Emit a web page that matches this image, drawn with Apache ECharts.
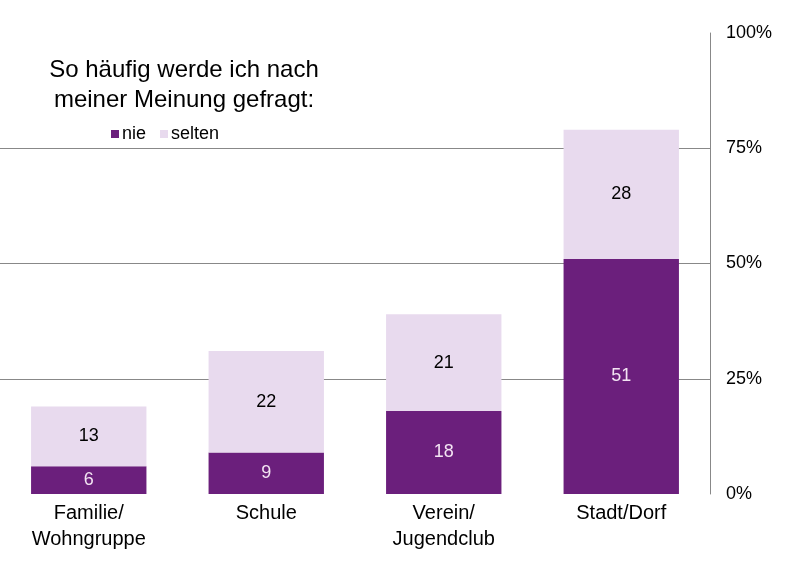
<!DOCTYPE html>
<html>
<head>
<meta charset="utf-8">
<script src="https://cdn.jsdelivr.net/npm/echarts@6/dist/echarts.min.js"></script>
<style>
  html, body { margin: 0; padding: 0; background: #fff; }
  #chart { width: 791px; height: 573px; }
</style>
</head>
<body>
<div id="chart"></div>
<script>
var categories = ['Familie/\nWohngruppe', 'Schule', 'Verein/\nJugendclub', 'Stadt/Dorf'];
var nie = [6, 9, 18, 51];
var selten = [13, 22, 21, 28];
var yTicks = [0, 25, 50, 75, 100];

var font = 'Liberation Sans, Arial, sans-serif';
var myChart = echarts.init(document.getElementById('chart'));

var option = {
  backgroundColor: '#fff',
  animation: false,
  title: {
    text: 'So häufig werde ich nach\nmeiner Meinung gefragt:',
    left: 179,
    top: 50,
    textAlign: 'center',
    textStyle: {
      fontFamily: font,
      fontSize: 24,
      fontWeight: 'normal',
      color: '#000',
      lineHeight: 30
    }
  },
  legend: {
    left: 106,
    top: 120,
    itemWidth: 8,
    itemHeight: 8,
    itemGap: 14,
    icon: 'rect',
    textStyle: { fontFamily: font, fontSize: 18, color: '#000', padding: [0, 0, 0, -2] },
    data: ['nie', 'selten']
  },
  grid: { left: 0, right: 81, top: 33, bottom: 79, containLabel: false },
  xAxis: {
    type: 'category',
    data: categories,
    axisLine: { show: false },
    axisTick: { show: false },
    axisLabel: {
      fontFamily: font,
      fontSize: 20,
      color: '#000',
      lineHeight: 26,
      margin: 6
    }
  },
  yAxis: {
    type: 'value',
    position: 'right',
    min: yTicks[0],
    max: yTicks[yTicks.length - 1],
    interval: 25,
    axisLine: { show: true, lineStyle: { color: '#888', width: 1 } },
    axisTick: { show: false },
    axisLabel: {
      formatter: '{value}%',
      fontFamily: font,
      fontSize: 18,
      color: '#000',
      margin: 16
    },
    splitLine: {
      show: true,
      lineStyle: { color: ['transparent', '#888', '#888', '#888', 'transparent'], width: 1 }
    }
  },
  series: [
    {
      name: 'nie',
      type: 'bar',
      stack: 'a',
      barCategoryGap: '35%',
      data: nie,
      itemStyle: { color: '#6b1f7c' },
      label: {
        show: true,
        position: 'inside',
        fontFamily: font,
        fontSize: 18,
        color: '#f3e4f3'
      }
    },
    {
      name: 'selten',
      type: 'bar',
      stack: 'a',
      data: selten,
      itemStyle: { color: '#e8daee' },
      label: {
        show: true,
        position: 'inside',
        fontFamily: font,
        fontSize: 18,
        color: '#000'
      }
    }
  ]
};

myChart.setOption(option);
</script>
</body>
</html>
